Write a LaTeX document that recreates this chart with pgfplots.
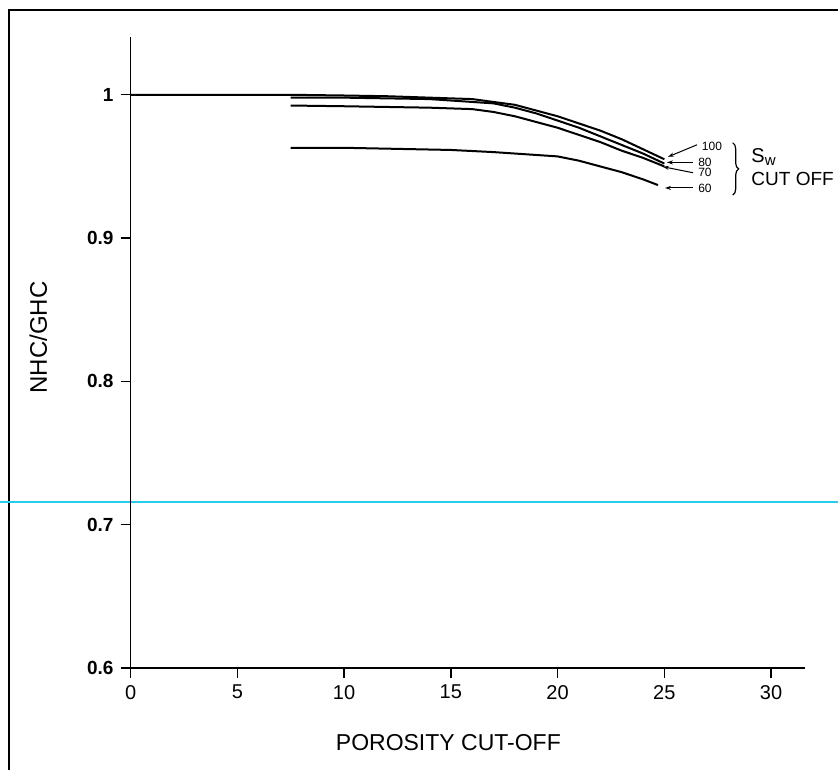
\documentclass[border=0pt]{standalone}
\usepackage{fontspec}
\setmainfont{Liberation Sans}
\usepackage{pgfplots}
\pgfplotsset{compat=1.18}
\usetikzlibrary{decorations.pathreplacing,arrows.meta}
\definecolor{scancyan}{RGB}{40,205,235}
\begin{document}
\begin{tikzpicture}
\useasboundingbox (-65.3pt,-50.5pt) rectangle (353.7pt,334pt);
% frame of the scanned page
\draw[line width=0.9pt] (-60.8pt,-60pt) -- (-60.8pt,329pt) -- (360pt,329pt);
\draw[scancyan, line width=0.7pt] (-70pt,83pt) -- (360pt,83pt);
\begin{axis}[
    at={(0,0)}, anchor=south west,
    x=10.675pt, y=716.5pt,
    xmin=0, xmax=31.6, ymin=0.6, ymax=1.04,
    axis lines=left,
    axis line style={-, line width=0.8pt},
    clip=false,
    xtick={0,5,10,15,20,25,30},
    ytick={0.6,0.7,0.8,0.9,1},
    yticklabels={0.6,0.7,0.8,0.9,1},
    tick align=outside,
    major tick length=5pt,
    tick style={black, line width=0.7pt},
    /pgf/number format/assume math mode=true,
    xticklabel style={font=\fontsize{10}{12}\selectfont},
    yticklabel style={font=\bfseries\fontsize{9.5}{11}\selectfont},
    xlabel={POROSITY CUT-OFF},
    ylabel={NHC/GHC},
    every axis x label/.style={at={(axis description cs:0.471,-0.119)}, anchor=center, font=\fontsize{11.5}{13}\selectfont},
    every axis y label/.style={at={(axis description cs:-0.137,0.524)}, rotate=90, anchor=center, font=\fontsize{12}{14}\selectfont},
]
% Sw = 100
\addplot[black, line width=1pt] coordinates {
    (0,1.000) (7.5,1.000) (10,0.9995) (12,0.999) (14,0.998) (16,0.997)
    (17,0.995) (18,0.993) (19,0.989) (20,0.985) (21,0.980) (22,0.975)
    (23,0.969) (24,0.962) (25,0.955)
};
% Sw = 80
\addplot[black, line width=1pt] coordinates {
    (7.5,0.998) (10,0.998) (14,0.997) (16,0.995) (17,0.994) (18,0.991)
    (19,0.987) (20,0.982) (21,0.977) (22,0.971) (23,0.965) (24,0.959)
    (25,0.952)
};
% Sw = 70
\addplot[black, line width=1pt] coordinates {
    (7.5,0.9925) (10,0.992) (14,0.991) (16,0.990) (17,0.988) (18,0.985)
    (19,0.981) (20,0.977) (21,0.972) (22,0.967) (23,0.961) (24,0.956)
    (25,0.950)
};
% Sw = 60
\addplot[black, line width=1pt] coordinates {
    (7.5,0.963) (10,0.963) (15,0.9615) (17,0.960) (19,0.958) (20,0.957)
    (21,0.954) (22,0.950) (23,0.946) (24,0.941) (24.7,0.937)
};
% labels of the curves
\begin{scope}[font=\fontsize{6}{6.5}\selectfont, inner sep=0.5pt]
\node at (axis cs:27.23,0.9640) {100};
\node at (axis cs:26.9,0.9530) {80};
\node at (axis cs:26.9,0.9458) {70};
\node at (axis cs:26.9,0.9344) {60};
\end{scope}
\begin{scope}[-{Stealth[length=3pt,width=2pt]}, line width=0.5pt]
\draw (axis cs:26.53,0.9651) -- (axis cs:25.17,0.9567);
\draw (axis cs:26.34,0.9528) -- (axis cs:25.12,0.9528);
\draw (axis cs:26.34,0.9456) -- (axis cs:24.93,0.9498);
\draw (axis cs:26.34,0.9350) -- (axis cs:25.03,0.9350);
\end{scope}
\draw[decorate, decoration={brace, amplitude=3pt}, line width=0.6pt]
    (axis cs:28.2,0.9665) -- (axis cs:28.2,0.930);
\node[anchor=west, font=\fontsize{10}{12}\selectfont] at (axis cs:28.75,0.9565)
    {S\raisebox{-0.25ex}{\fontsize{7.5}{8}\selectfont w}};
\node[anchor=west, font=\fontsize{9.5}{11}\selectfont] at (axis cs:28.75,0.9414) {CUT OFF};
\end{axis}
\end{tikzpicture}
\end{document}
